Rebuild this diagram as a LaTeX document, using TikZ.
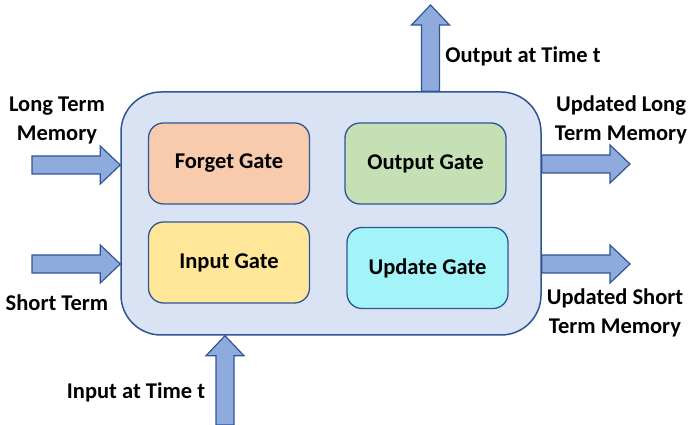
\documentclass[tikz,border=0pt]{standalone}
\usepackage{fontspec}
\setmainfont{Carlito}
\usetikzlibrary{calc}

\definecolor{cellfill}{HTML}{DAE3F3}
\definecolor{celldraw}{HTML}{2F5597}
\definecolor{arrowfill}{HTML}{8FAADC}
\definecolor{forgetfill}{HTML}{F8CBAD}
\definecolor{outputfill}{HTML}{C5E0B4}
\definecolor{inputfill}{HTML}{FFE699}
\definecolor{updatefill}{HTML}{A3F4F8}

\tikzset{
  cell/.style={draw=celldraw, fill=cellfill, line width=1.5pt, rounded corners=40pt,
    minimum width=420pt, minimum height=243pt},
  gate/.style={draw=celldraw, line width=1.3pt, rounded corners=15pt,
    minimum width=161pt, minimum height=81pt, font=\bfseries\fontsize{22.5}{26}\selectfont},
  label/.style={align=center, font=\bfseries\fontsize{22.5}{29}\selectfont},
  flowarrow/.style={draw=celldraw, fill=arrowfill, line width=1.2pt, line join=miter}
}

% block arrow from #1 to #2
\newcommand{\blockarrow}[2]{%
  \coordinate (ba) at ($(#2)!20pt!(#1)$);
  \draw[flowarrow] ($(#1)!9pt!90:(#2)$) -- ($(ba)!9pt!-90:(#1)$) -- ($(ba)!19pt!-90:(#1)$)
    -- (#2) -- ($(ba)!19pt!90:(#1)$) -- ($(ba)!9pt!90:(#1)$) -- ($(#1)!9pt!-90:(#2)$) -- cycle;}

\begin{document}
\begin{tikzpicture}[x=1pt, y=1pt]
  \useasboundingbox (0,0) rectangle (689,425);

  \node[cell] (lstm) at (331,211.5) {};
  \node[gate, fill=forgetfill] (forget) at (229,261.5) {Forget Gate};
  \node[gate, fill=outputfill] (output) at (425.5,261.5) {Output Gate};
  \node[gate, fill=inputfill] (input) at (229,162.5) {Input Gate};
  \node[gate, fill=updatefill] (update) at (427.5,157) {Update Gate};

  \coordinate (ltmin) at (32,260);
  \coordinate (stmin) at (32,161);
  \coordinate (xin) at (225,0);
  \coordinate (hout) at (430.5,420);
  \coordinate (ltmout) at (630,261);
  \coordinate (stmout) at (630,161);

  \blockarrow{ltmin}{lstm.west |- ltmin}
  \blockarrow{stmin}{lstm.west |- stmin}
  \blockarrow{xin}{lstm.south -| xin}
  \blockarrow{lstm.north -| hout}{hout}
  \blockarrow{lstm.east |- ltmout}{ltmout}
  \blockarrow{lstm.east |- stmout}{stmout}

  \node[label] (ltmtext) at (57,305) {Long Term\\Memory};
  \node[label] (stmtext) at (57,122) {Short Term};
  \node[label] (xtext) at (136,33) {Input at Time t};
  \node[label] (htext) at (523,369) {Output at Time t};
  \node[label] (ltmouttext) at (621,305) {Updated Long\\Term Memory};
  \node[label] (stmouttext) at (615,112.5) {Updated Short\\Term Memory};
\end{tikzpicture}
\end{document}
